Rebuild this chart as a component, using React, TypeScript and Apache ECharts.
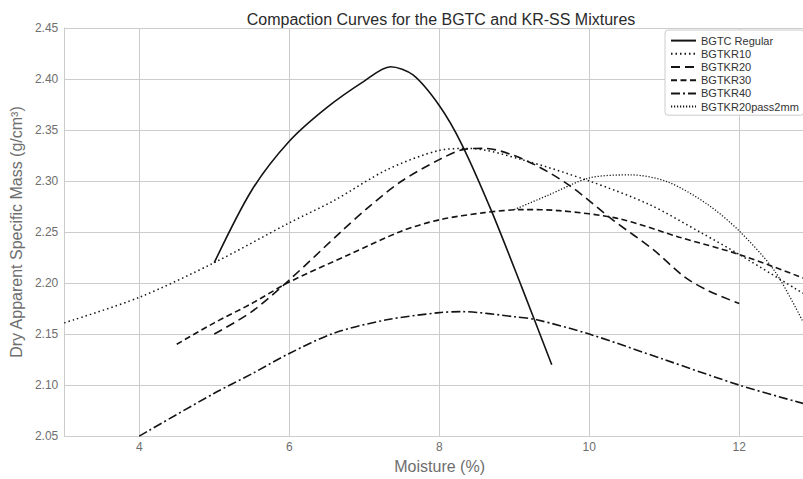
import React, { useEffect, useRef } from "react";
import * as echarts from "echarts";

// Moisture (%) vs dry apparent specific mass (g/cm³), one curve per mixture
const seriesNames = [
  "BGTC Regular",
  "BGTKR10",
  "BGTKR20",
  "BGTKR30",
  "BGTKR40",
  "BGTKR20pass2mm",
];

const bgtcRegularX = [5.0, 5.5, 6.0, 6.5, 7.0, 7.35, 7.65, 8.0, 8.3, 8.7, 9.1, 9.5];
const bgtcRegularY = [2.22, 2.291, 2.339, 2.372, 2.398, 2.412, 2.404, 2.374, 2.336, 2.27, 2.196, 2.12];

const bgtkr10X = [3.0, 4.0, 5.0, 6.0, 6.6, 7.3, 8.0, 8.4, 9.1, 10.0, 10.8, 11.5, 12.0, 12.85];
const bgtkr10Y = [2.161, 2.186, 2.22, 2.259, 2.281, 2.311, 2.33, 2.332, 2.321, 2.3, 2.277, 2.249, 2.228, 2.19];

const bgtkr20X = [5.0, 5.5, 6.0, 6.7, 7.05, 7.5, 8.0, 8.33, 8.6, 9.13, 9.71, 10.33, 10.85, 11.27, 11.6, 12.0];
const bgtkr20Y = [2.15, 2.172, 2.203, 2.251, 2.274, 2.3, 2.321, 2.331, 2.332, 2.321, 2.297, 2.261, 2.233, 2.206, 2.192, 2.18];

const bgtkr30X = [4.5, 5.0, 5.5, 6.0, 6.8, 7.5, 8.0, 8.6, 9.1, 9.6, 10.4, 11.2, 12.0, 12.85];
const bgtkr30Y = [2.14, 2.161, 2.18, 2.201, 2.228, 2.251, 2.262, 2.269, 2.272, 2.271, 2.263, 2.245, 2.228, 2.205];

const bgtkr40X = [4.0, 5.0, 5.5, 6.0, 6.6, 7.3, 8.0, 8.3, 9.0, 9.3, 10.0, 11.0, 12.0, 12.85];
const bgtkr40Y = [2.05, 2.092, 2.111, 2.131, 2.151, 2.164, 2.171, 2.172, 2.167, 2.164, 2.15, 2.125, 2.1, 2.082];

const bgtkr20pass2mmX = [9.0, 9.45, 10.0, 10.56, 11.05, 11.58, 12.0, 12.47, 12.85];
const bgtkr20pass2mmY = [2.272, 2.286, 2.303, 2.306, 2.299, 2.277, 2.251, 2.212, 2.162];

const yTicks = { min: 2.05, max: 2.45, step: 0.05 };
const xRange = { min: 3, max: 12.85 };

const FONT = "'Liberation Sans', Arial, Helvetica, sans-serif";
const LINE = "#141414";

const zip = (xs: number[], ys: number[]) => xs.map((x, i) => [x, ys[i]]);

const curves = [
  { data: zip(bgtcRegularX, bgtcRegularY), dash: "solid" as any, width: 1.6 },
  { data: zip(bgtkr10X, bgtkr10Y), dash: [1.5, 3], width: 1.5 },
  { data: zip(bgtkr20X, bgtkr20Y), dash: [9, 5], width: 1.6 },
  { data: zip(bgtkr30X, bgtkr30Y), dash: [6, 3.5], width: 1.6 },
  { data: zip(bgtkr40X, bgtkr40Y), dash: [9, 3, 2, 3], width: 1.6 },
  { data: zip(bgtkr20pass2mmX, bgtkr20pass2mmY), dash: [1.2, 1.8], width: 1.3 },
];

export default function App() {
  const ref = useRef<HTMLDivElement>(null);

  useEffect(() => {
    if (!ref.current) return;
    const chart = echarts.init(ref.current, undefined, { renderer: "svg" });
    chart.setOption({
      animation: false,
      backgroundColor: "#ffffff",
      textStyle: { fontFamily: FONT },
      title: {
        text: "Compaction Curves for the BGTC and KR-SS Mixtures",
        left: 436,
        textAlign: "center",
        top: 6,
        textStyle: { fontFamily: FONT, fontSize: 16, fontWeight: "normal", color: "#2a2a2a" },
      },
      grid: { left: 63, right: 0, top: 28, bottom: 39 },
      legend: {
        orient: "vertical",
        left: 665,
        top: 30,
        padding: [5, 5, 3, 5],
        itemWidth: 25,
        itemHeight: 14,
        itemGap: 2,
        backgroundColor: "#ffffff",
        borderColor: "#cccccc",
        borderWidth: 1,
        borderRadius: 3,
        itemStyle: { opacity: 0 },
        textStyle: { fontFamily: FONT, fontSize: 11, color: "#333333" },
        data: seriesNames,
      },
      xAxis: {
        type: "value",
        min: xRange.min,
        max: xRange.max,
        splitNumber: 5,
        name: "Moisture (%)",
        nameLocation: "middle",
        nameGap: 18,
        nameTextStyle: { fontFamily: FONT, fontSize: 16, color: "#6e6e6e", padding: [0, 0, 0, 12] },
        axisLine: { show: true, lineStyle: { color: "#cccccc", width: 1 } },
        axisTick: { show: false },
        axisLabel: {
          showMinLabel: false,
          showMaxLabel: false,
          fontFamily: FONT,
          fontSize: 12,
          color: "#6e6e6e",
          margin: 5,
        },
        splitLine: { show: true, lineStyle: { color: "#cccccc", width: 1 } },
      },
      yAxis: {
        type: "value",
        min: yTicks.min,
        max: yTicks.max,
        interval: yTicks.step,
        name: "Dry Apparent Specific Mass (g/cm³)",
        nameLocation: "middle",
        nameRotate: 90,
        nameGap: 38,
        nameTextStyle: { fontFamily: FONT, fontSize: 16, color: "#6e6e6e" },
        axisLine: { show: true, lineStyle: { color: "#cccccc", width: 1 } },
        axisTick: { show: false },
        axisLabel: {
          fontFamily: FONT,
          fontSize: 12,
          color: "#6e6e6e",
          margin: 6,
          formatter: (v: number) => v.toFixed(2),
        },
        splitLine: { show: true, lineStyle: { color: "#cccccc", width: 1 } },
      },
      series: curves.map((c, i) => ({
        name: seriesNames[i],
        type: "line",
        data: c.data,
        showSymbol: false,
        symbol: "none",
        smooth: 0.3,
        clip: true,
        color: LINE,
        lineStyle: { color: LINE, width: c.width, type: c.dash },
      })),
    });
    return () => chart.dispose();
  }, []);

  return (
    <div
      style={{
        position: "fixed",
        left: 0,
        top: 0,
        width: 803,
        height: 479,
        overflow: "hidden",
        background: "#fff",
      }}
    >
      <div ref={ref} style={{ width: 803, height: 479 }} />
    </div>
  );
}
